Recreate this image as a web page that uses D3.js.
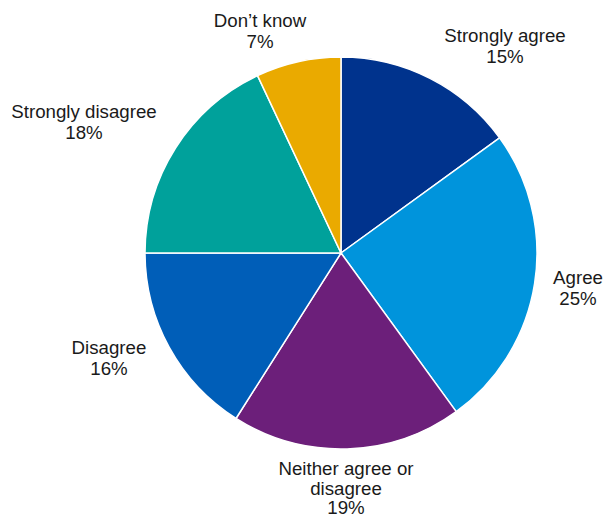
<!DOCTYPE html>
<html><head><meta charset="utf-8">
<script src="https://cdn.jsdelivr.net/npm/d3@7"></script>
<style>body{margin:0;background:#fff;}svg{display:block;}</style>
</head><body>
<svg id="chart" width="606" height="520"></svg>
<script>
const categories = ["Strongly agree","Agree","Neither agree or disagree","Disagree","Strongly disagree","Don\u2019t know"];
const values = [15, 25, 19, 16, 18, 7];
const labelLines = [["Strongly agree"],["Agree"],["Neither agree or","disagree"],["Disagree"],["Strongly disagree"],["Don\u2019t know"]];
const colors = ["#00338D","#0094DC","#6C1F7A","#005EB8","#00A19B","#EAAA00"];
// label anchor (center x, first baseline y, line spacing)
const labelPos = [[505,42,21],[578,284,20.5],[346,475,19.5],[109,354,21],[84,118,21],[260,27,20.5]];

const svg = d3.select("#chart");
const cx = 341, cy = 253, r = 196;
const data = categories.map((c,i)=>({cat:c, value:values[i], i}));
const pie = d3.pie().value(d=>d.value).sort(null);
const arc = d3.arc().innerRadius(0).outerRadius(r);
const g = svg.append("g").attr("transform",`translate(${cx},${cy})`);
g.selectAll("path").data(pie(data)).join("path")
  .attr("d",arc).attr("fill",d=>colors[d.data.i])
  .attr("stroke","#fff").attr("stroke-width",1.5).attr("stroke-linejoin","round");

data.forEach((d,i)=>{
  const lines = labelLines[i].concat([values[i]+"%"]);
  const t = svg.append("text").attr("text-anchor","middle")
    .attr("font-family","'Liberation Sans', Arial, sans-serif")
    .attr("font-size","18.7px").attr("fill","#1a1a1a");
  lines.forEach((ln,k)=>{
    t.append("tspan").attr("x",labelPos[i][0]).attr("y",labelPos[i][1]+k*labelPos[i][2]).text(ln);
  });
});
</script>
</body></html>
